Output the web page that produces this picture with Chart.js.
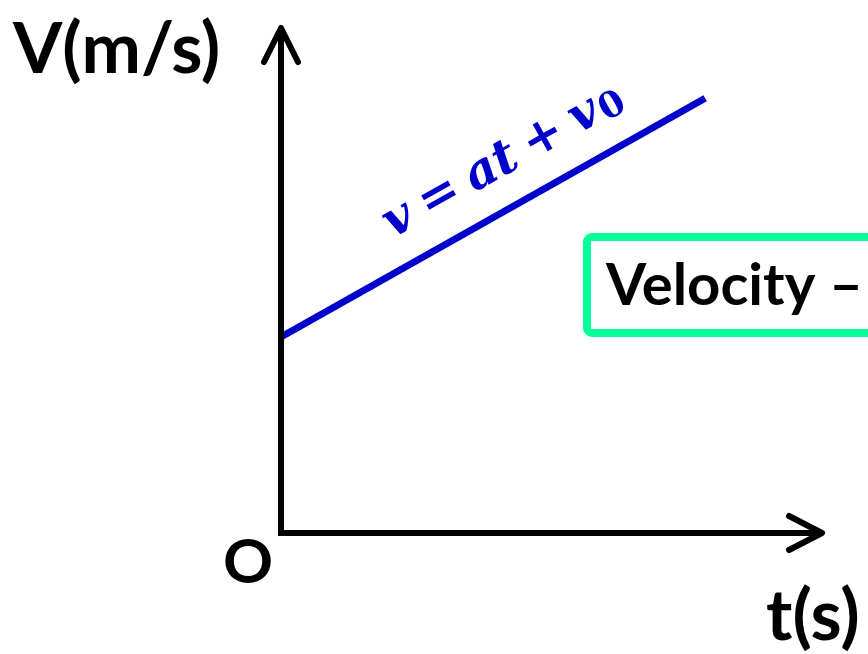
<!DOCTYPE html>
<html>
<head>
<meta charset="utf-8">
<script src="https://cdn.jsdelivr.net/npm/chart.js@4"></script>
<style>
  html, body { margin: 0; padding: 0; background: #fff; }
  #wrap { width: 868px; height: 654px; position: relative; }
</style>
</head>
<body>
<div id="wrap"><canvas id="chartVelocity"></canvas></div>
<script>
// data: velocity grows linearly with time, starting at v0
const timeValues = [0, 7.84];
const velocityValues = [3.88, 8.61];
const axisMax = 10;

const axisLabelY = 'V(m/s)';
const axisLabelX = 't(s)';
const originLabel = 'O';
const boxLabel = 'Velocity – Time Graph';
const equationParts = ['v', '=', 'at', '+', 'v'];

// draws the arrows, labels, equation and the green title box
const diagramPlugin = {
  id: 'diagram',
  afterDatasetsDraw(chart) {
    const ctx = chart.ctx;
    const xs = chart.scales.x;
    const ys = chart.scales.y;
    const x0 = xs.getPixelForValue(0);
    const y0 = ys.getPixelForValue(0);
    const xEnd = xs.getPixelForValue(axisMax);
    const yEnd = ys.getPixelForValue(axisMax);

    ctx.save();
    // axes
    ctx.strokeStyle = '#000';
    ctx.lineWidth = 6;
    ctx.lineCap = 'butt';
    ctx.beginPath();
    ctx.moveTo(x0, y0 + 3);
    ctx.lineTo(x0, yEnd + 2);
    ctx.moveTo(x0 - 3, y0);
    ctx.lineTo(xEnd - 2, y0);
    ctx.stroke();

    // arrow heads (open chevrons)
    ctx.lineCap = 'round';
    ctx.lineJoin = 'round';
    ctx.beginPath();
    ctx.moveTo(x0 - 17, yEnd + 34);
    ctx.lineTo(x0, yEnd);
    ctx.lineTo(x0 + 17, yEnd + 34);
    ctx.moveTo(xEnd - 33, y0 - 17);
    ctx.lineTo(xEnd, y0);
    ctx.lineTo(xEnd - 33, y0 + 17);
    ctx.stroke();

    // axis labels
    ctx.fillStyle = '#000';
    ctx.font = 'bold 71px Lato';
    ctx.textBaseline = 'alphabetic';
    ctx.textAlign = 'left';
    ctx.fillText(axisLabelY, 13, 73);
    ctx.fillText(axisLabelX, 766, 640);
    ctx.font = 'bold 62px Lato';
    ctx.fillText(originLabel, 223, 583);

    // equation along the line
    const meta = chart.getDatasetMeta(0).data;
    const p0 = meta[0], p1 = meta[1];
    const ang = Math.atan2(p1.y - p0.y, p1.x - p0.x);
    const f = 0.30;
    const ax = p0.x + (p1.x - p0.x) * f;
    const ay = p0.y + (p1.y - p0.y) * f;
    ctx.translate(ax, ay);
    ctx.rotate(ang);
    ctx.translate(0, -31);
    ctx.fillStyle = '#0000cc';
    ctx.font = 'italic bold 49px "DejaVu Serif"';
    const gap = 12;
    let cx = 0;
    equationParts.forEach(part => {
      ctx.fillText(part, cx, 0);
      cx += ctx.measureText(part).width + gap;
    });
    cx -= gap;
    ctx.font = 'bold 36px "DejaVu Serif"';
    ctx.fillText('0', cx + 2, 3);
    ctx.setTransform(1, 0, 0, 1, 0, 0);

    // green title box (runs off the right edge)
    ctx.strokeStyle = '#00ff99';
    ctx.lineWidth = 8;
    ctx.beginPath();
    ctx.roundRect(587, 237, 400, 96, 5);
    ctx.stroke();
    ctx.fillStyle = '#000';
    ctx.font = 'bold 58px Lato';
    ctx.fillText(boxLabel, 606, 305);
    ctx.restore();
  }
};

const ctxVel = document.getElementById('chartVelocity').getContext('2d');
const chart = new Chart(ctxVel, {
  type: 'scatter',
  data: {
    datasets: [{
      label: 'v',
      data: timeValues.map((t, i) => ({ x: t, y: velocityValues[i] })),
      showLine: true,
      borderColor: '#0000cc',
      borderWidth: 7,
      pointRadius: 0
    }]
  },
  options: {
    responsive: true,
    maintainAspectRatio: false,
    animation: false,
    layout: { padding: { left: 281, right: 46, top: 28, bottom: 121 } },
    plugins: { legend: { display: false }, tooltip: { enabled: false } },
    scales: {
      x: { type: 'linear', min: 0, max: axisMax, display: false },
      y: { type: 'linear', min: 0, max: axisMax, display: false }
    }
  },
  plugins: [diagramPlugin]
});
</script>
</body>
</html>
